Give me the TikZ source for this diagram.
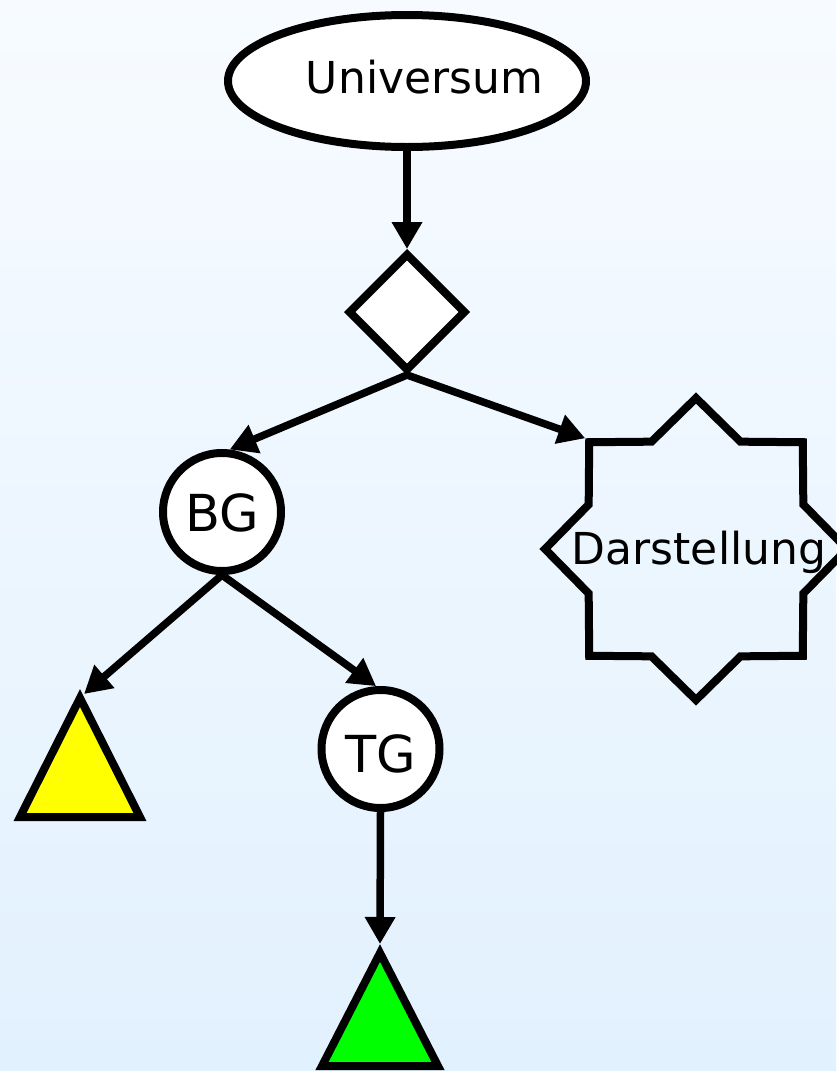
\documentclass[tikz,border=0pt]{standalone}
\usepackage{fontspec}
\setmainfont{DejaVu Sans}
\usetikzlibrary{arrows.meta,shapes.geometric}
\definecolor{bgtop}{RGB}{247,251,255}
\definecolor{bgbot}{RGB}{226,241,254}
\definecolor{tyellow}{RGB}{255,255,0}
\definecolor{tgreen}{RGB}{0,255,0}
\begin{document}
\begin{tikzpicture}[x=1pt,y=-1pt,
  shp/.style={draw=black,line width=8pt,inner sep=0pt},
  conn/.style={line width=7.5pt,-{Triangle[length=27pt,width=29pt]}},
  lbl/.style={anchor=base,inner sep=0pt,font=\fontsize{44}{50}\selectfont},
  big/.style={anchor=base,inner sep=0pt,font=\fontsize{51}{58}\selectfont}]
\useasboundingbox (0,0) rectangle (836,1071);
\shade[top color=bgtop,bottom color=bgbot] (0,0) rectangle (836,1071);
% shapes
\node[shp,ellipse,fill=white,minimum width=358pt,minimum height=132pt] (u) at (407,81) {};
\node[lbl] (ut) at (424.5,93) {Universum};
\node[shp,diamond,fill=white,minimum width=118pt,minimum height=118pt] (d) at (407,312) {};
\node[shp,circle,fill=white,minimum size=118pt] (bg) at (222,512) {};
\node[big] (bgt) at (222,531) {BG};
\node[shp,star,star points=8,star point ratio=1.3,minimum size=302pt] (ds) at (696,549) {};
\node[lbl] (dst) at (699,564) {Darstellung};
\node[shp,circle,fill=white,minimum size=118pt] (tg) at (380.5,749) {};
\node[big] (tgt) at (380.5,772) {TG};
\draw[line width=8pt,fill=tyellow] (80,698) -- (140,817) -- (20,817) -- cycle;
\draw[line width=8pt,fill=tgreen] (380,953) -- (438,1066) -- (322,1066) -- cycle;
\coordinate (ytip) at (84,694);
\coordinate (gtip) at (380,944);
% connectors
\draw[conn] (u.south) -- (d.north);
\draw[conn] (d.south) -- (bg.83);
\draw[conn] (d.south) -- (ds.outer point 2);
\draw[conn] (bg.south) -- (ytip);
\draw[conn] (bg.south) -- (tg.94);
\draw[conn] (tg.south) -- (gtip);
\end{tikzpicture}
\end{document}
